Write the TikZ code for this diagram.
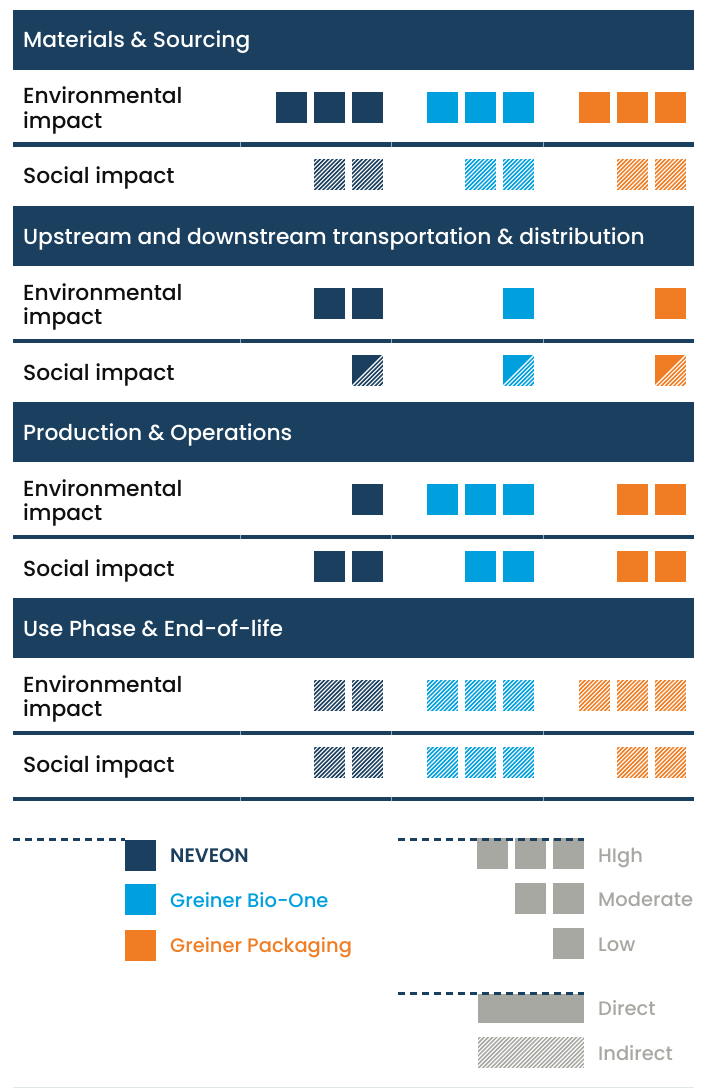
\documentclass[tikz,border=0pt]{standalone}
\usepackage{fontspec}
\setmainfont{Poppins}
\newfontfamily\pmed{Poppins Medium}
\newfontfamily\psemi{Poppins SemiBold}
\definecolor{navy}{RGB}{27,63,94}
\definecolor{gblue}{RGB}{0,160,223}
\definecolor{gorange}{RGB}{240,125,35}
\definecolor{lgray}{RGB}{168,168,163}
\definecolor{txt}{RGB}{15,15,15}
\definecolor{rulec}{RGB}{225,232,234}
\newcommand\Sq[3]{\fill[#3] (#1,#2) rectangle ++(31,31);}
\newcommand\Hatch[5]{%
 \begin{scope}
 \clip (#1,#2) rectangle ++(#3,#4);
 \fill[#5] (#1,#2) rectangle ++(#3,#4);
 \foreach \k in {0,...,40} {\draw[white,line width=1.1] ({#1-#4-2+4.2*\k},{#2+#4+2}) -- ++({#4+6},{-#4-6});}
 \end{scope}}
\newcommand\HSq[3]{\Hatch{#1}{#2}{31}{31}{#3}}
\newcommand\Half[3]{%
 \begin{scope}
 \clip (#1,#2) rectangle ++(31,31);
 \fill[#3] (#1,#2) rectangle ++(31,31);
 \foreach \k in {0,...,7} {\draw[white,line width=1.1] ({#1-2+4.2*\k},{#2+33}) -- ++(37,-37);}
 \end{scope}}
\newcommand\Sep[1]{%
 \fill[navy] (13,#1) rectangle (694,#1+4.5);
 \foreach \d in {240,391,543} {\draw[navy!45!white,line width=0.8] (\d,#1) -- (\d,#1+4.5);}}
\tikzset{
 head/.style={anchor=base west,inner sep=0,text=white,font=\pmed\fontsize{21.8}{25}\selectfont},
 lab/.style={anchor=base west,inner sep=0,text=txt,font=\pmed\fontsize{21.8}{25}\selectfont},
 leg/.style={anchor=base west,inner sep=0,font=\pmed\fontsize{19.5}{23}\selectfont},
 dashline/.style={draw=navy,line width=2.5,dash pattern=on 7 off 5}
}
\begin{document}
\begin{tikzpicture}[x=1pt,y=-1pt]
\useasboundingbox (0,0) rectangle (714,1091);
% headers
\foreach \o/\t [count=\i] in {0/{Materials \& Sourcing},196/{Upstream and downstream transportation \& distribution},392/{Production \& Operations},588/{Use Phase \& End-of-life}}{
 \fill[navy] (13,10+\o) rectangle (694,70+\o);
 \node[head] (h\i) at (23,48+\o) {\t};
 \node[lab] (e\i) at (23,104+\o) {Environmental};
 \node[lab] (ei\i) at (23,128.5+\o) {impact};
 \node[lab] (s\i) at (23,184+\o) {Social impact};
 \Sep{142.5+\o}
}
\Sep{796.5}
% section 1
\foreach \x in {276,314,352} {\Sq{\x}{92}{navy}}
\foreach \x in {427,465,503} {\Sq{\x}{92}{gblue}}
\foreach \x in {579,617,655} {\Sq{\x}{92}{gorange}}
\foreach \x in {314,352} {\HSq{\x}{159}{navy}}
\foreach \x in {465,503} {\HSq{\x}{159}{gblue}}
\foreach \x in {617,655} {\HSq{\x}{159}{gorange}}
% section 2
\foreach \x in {314,352} {\Sq{\x}{288}{navy}}
\Sq{503}{288}{gblue}
\Sq{655}{288}{gorange}
\Half{352}{355}{navy}
\Half{503}{355}{gblue}
\Half{655}{355}{gorange}
% section 3
\Sq{352}{484}{navy}
\foreach \x in {427,465,503} {\Sq{\x}{484}{gblue}}
\foreach \x in {617,655} {\Sq{\x}{484}{gorange}}
\foreach \x in {314,352} {\Sq{\x}{551}{navy}}
\foreach \x in {465,503} {\Sq{\x}{551}{gblue}}
\foreach \x in {617,655} {\Sq{\x}{551}{gorange}}
% section 4
\foreach \x in {314,352} {\HSq{\x}{680}{navy}}
\foreach \x in {427,465,503} {\HSq{\x}{680}{gblue}}
\foreach \x in {579,617,655} {\HSq{\x}{680}{gorange}}
\foreach \x in {314,352} {\HSq{\x}{747}{navy}}
\foreach \x in {427,465,503} {\HSq{\x}{747}{gblue}}
\foreach \x in {617,655} {\HSq{\x}{747}{gorange}}
% legend left
\Sq{125}{840}{navy}
\Sq{125}{884}{gblue}
\Sq{125}{930}{gorange}
\draw[dashline] (13,839.5) -- (125,839.5);
\node[leg,text=navy,font=\psemi\fontsize{19.5}{23}\selectfont] (l1) at (170,862) {NEVEON};
\node[leg,text=gblue] (l2) at (170,907) {Greiner Bio-One};
\node[leg,text=gorange] (l3) at (170,952) {Greiner Packaging};
% legend right
\foreach \x in {477,515,553} {\Sq{\x}{838}{lgray}}
\foreach \x in {515,553} {\Sq{\x}{883}{lgray}}
\Sq{553}{928}{lgray}
\fill[lgray] (478,994) rectangle (584,1023);
\Hatch{478}{1037}{106}{31}{lgray}
\draw[dashline] (398,839.5) -- (584,839.5);
\draw[dashline] (398,993.5) -- (584,993.5);
\node[leg,text=lgray] (r1) at (598,862) {HIgh};
\node[leg,text=lgray] (r2) at (598,906) {Moderate};
\node[leg,text=lgray] (r3) at (598,951) {Low};
\node[leg,text=lgray] (r4) at (598,1015) {Direct};
\node[leg,text=lgray] (r5) at (598,1060) {Indirect};
\draw[rulec,line width=1.5] (13,1087.5) -- (694,1087.5);
\end{tikzpicture}
\end{document}
